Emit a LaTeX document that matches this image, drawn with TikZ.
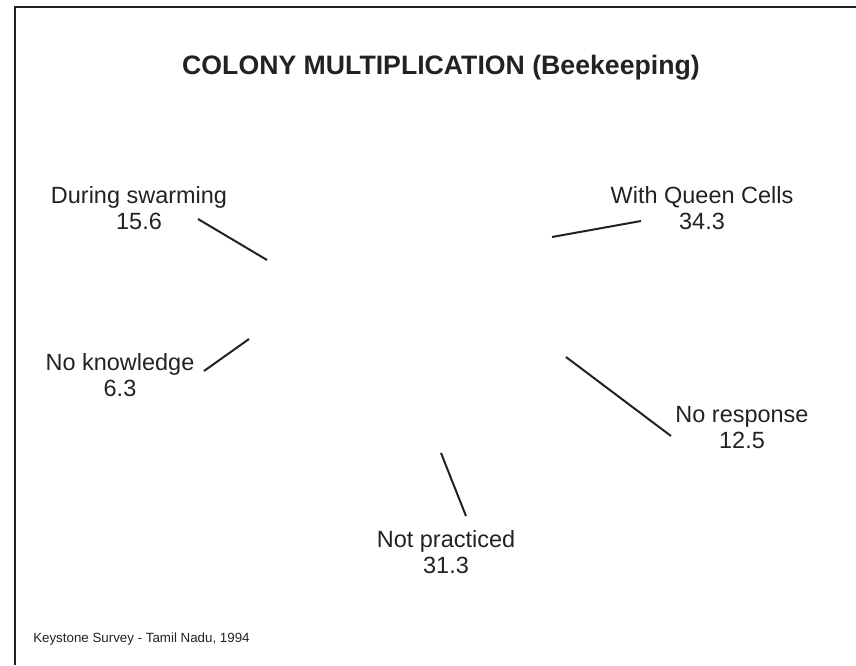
\documentclass[tikz,border=0pt]{standalone}
\usepackage{fontspec}
\setmainfont{Liberation Sans}
\definecolor{ink}{HTML}{222222}
\begin{document}
\begin{tikzpicture}[x=0.75pt,y=-0.75pt,
  lbl/.style={font=\fontsize{17.6}{19.5}\selectfont, text=ink, align=center, anchor=base, inner sep=0pt},
  leader/.style={draw=ink, line width=1.5pt},
  frame/.style={draw=ink, line width=1.6pt}]
\useasboundingbox (0,0) rectangle (856,665);
\draw[frame] (15,665) -- (15,7) -- (856,7);
\node[anchor=base, inner sep=0pt, text=ink, font=\fontsize{20}{24}\selectfont\bfseries] (title) at (441,74) {COLONY MULTIPLICATION (Beekeeping)};
\node[lbl] (ds) at (139,229) {During swarming\\15.6};
\node[lbl] (wq) at (702,229) {With Queen Cells\\34.3};
\node[lbl] (nk) at (120,396) {No knowledge\\6.3};
\node[lbl] (nr) at (742,448) {No response\\12.5};
\node[lbl] (np) at (446,573) {Not practiced\\31.3};
\node[anchor=base west, inner sep=0pt, text=ink, font=\fontsize{10}{12}\selectfont] (src) at (33,642) {Keystone Survey - Tamil Nadu, 1994};
\coordinate (ds1) at (198,219); \coordinate (ds2) at (267,260);
\coordinate (nk1) at (204,371); \coordinate (nk2) at (249,339);
\coordinate (wq1) at (552,237); \coordinate (wq2) at (641,221);
\coordinate (nr1) at (566,357); \coordinate (nr2) at (671,436);
\coordinate (np1) at (441,453); \coordinate (np2) at (466,516);
\draw[leader] (ds1) -- (ds2);
\draw[leader] (nk1) -- (nk2);
\draw[leader] (wq1) -- (wq2);
\draw[leader] (nr1) -- (nr2);
\draw[leader] (np1) -- (np2);
\end{tikzpicture}
\end{document}
